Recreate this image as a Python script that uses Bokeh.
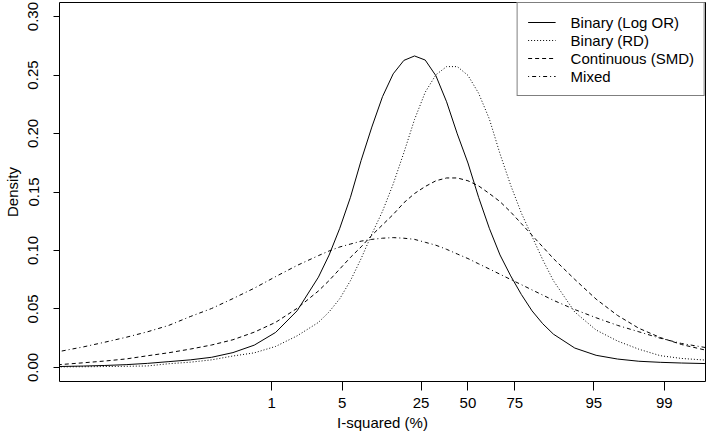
import math
from bokeh.plotting import figure
from bokeh.models import FixedTicker, Legend, LegendItem, Range1d, PrintfTickFormatter
from bokeh.embed import file_html
from bokeh.resources import INLINE

# ---- data (x = logit of I-squared, y = density) ----
x_logit = [-9.6, -9.0, -8.5, -8.0, -7.5, -7.0, -6.5, -6.0, -5.5, -5.0, -4.5, -4.0, -3.5,
           -3.25, -3.0, -2.75, -2.5, -2.25, -2.0, -1.75, -1.5, -1.25, -1.0, -0.75, -0.5,
           -0.25, 0.0, 0.25, 0.5, 0.75, 1.0, 1.25, 1.5, 1.75, 2.0,
           2.5, 3.0, 3.5, 4.0, 4.5, 5.0, 5.6]

binary_logor = [0.0008, 0.0012, 0.0017, 0.0024, 0.0035, 0.0050, 0.0065, 0.0087, 0.0127, 0.0191,
                0.0300, 0.0484, 0.0772,
                0.0961, 0.1190, 0.1455, 0.1770, 0.2055, 0.2315, 0.2510, 0.2625, 0.2663, 0.2628,
                0.2494, 0.2271, 0.1997, 0.1748, 0.1454, 0.1190, 0.0962, 0.0783, 0.0624, 0.0484,
                0.0374, 0.0285,
                0.0166, 0.0104, 0.0072, 0.0053, 0.0044, 0.0038, 0.0033]

binary_rd = [0.0005, 0.0006, 0.0008, 0.0010, 0.0013, 0.0032, 0.0045, 0.0065, 0.0098, 0.0125,
             0.0180, 0.0270, 0.0385,
             0.0475, 0.0588, 0.0742, 0.0931, 0.1140, 0.1335, 0.1568, 0.1836, 0.2120, 0.2353,
             0.2502, 0.2572, 0.2572, 0.2497, 0.2344, 0.2125, 0.1827, 0.1558, 0.1320, 0.1120,
             0.0921, 0.0742,
             0.0474, 0.0320, 0.0226, 0.0156, 0.0101, 0.0077, 0.0062]

continuous_smd = [0.0023, 0.0040, 0.0055, 0.0073, 0.0100, 0.0126, 0.0157, 0.0192, 0.0237, 0.0302,
                  0.0386, 0.0505, 0.0654,
                  0.0743, 0.0842, 0.0941, 0.1031, 0.1130, 0.1219, 0.1308, 0.1408, 0.1487, 0.1547,
                  0.1596, 0.1620, 0.1620, 0.1596, 0.1552, 0.1487, 0.1418, 0.1329, 0.1230, 0.1130,
                  0.1031, 0.0931,
                  0.0753, 0.0584, 0.0445, 0.0335, 0.0256, 0.0196, 0.0145]

mixed = [0.0134, 0.0176, 0.0216, 0.0258, 0.0305, 0.0360, 0.0435, 0.0504, 0.0589, 0.0678,
         0.0777, 0.0872, 0.0956,
         0.0996, 0.1030, 0.1055, 0.1080, 0.1095, 0.1105, 0.1110, 0.1105, 0.1095, 0.1070,
         0.1045, 0.1010, 0.0970, 0.0931, 0.0886, 0.0842, 0.0797, 0.0752, 0.0708, 0.0663,
         0.0619, 0.0574,
         0.0495, 0.0425, 0.0360, 0.0305, 0.0250, 0.0205, 0.0168]

series_names = ["Binary (Log OR)", "Binary (RD)", "Continuous (SMD)", "Mixed"]
x_tick_pcts = [1, 5, 25, 50, 75, 95, 99]
y_ticks = [0.00, 0.05, 0.10, 0.15, 0.20, 0.25, 0.30]

FONT = "Liberation Sans"
FS = "15px"

p = figure(width=709, height=442, output_backend="svg", toolbar_location=None,
           x_range=Range1d(-9.56, 5.56), y_range=Range1d(-0.012, 0.312),
           min_border_left=55, min_border_right=4, min_border_top=2, min_border_bottom=61)
p.xgrid.visible = False
p.ygrid.visible = False
p.outline_line_color = "black"
p.outline_line_width = 1
p.background_fill_color = "white"
p.border_fill_color = "white"

xt = [math.log(v / (100.0 - v)) for v in x_tick_pcts]
xa = p.xaxis[0]
xa.ticker = FixedTicker(ticks=xt)
xa.major_label_overrides = {t: str(v) for t, v in zip(xt, x_tick_pcts)}
xa.axis_label = "I-squared (%)"

ya = p.yaxis[0]
ya.ticker = FixedTicker(ticks=y_ticks)
ya.formatter = PrintfTickFormatter(format="%.2f")
ya.major_label_orientation = "vertical"
ya.axis_label = "Density"

for ax in (xa, ya):
    ax.axis_line_color = None
    ax.major_tick_in = 0
    ax.major_tick_line_color = "black"
    ax.minor_tick_line_color = None
    ax.major_label_text_font = FONT
    ax.major_label_text_font_size = FS
    ax.major_label_text_color = "black"
    ax.axis_label_text_font = FONT
    ax.axis_label_text_font_size = FS
    ax.axis_label_text_font_style = "normal"
    ax.axis_label_text_color = "black"
xa.major_tick_out = 9
xa.major_label_standoff = 7
xa.axis_label_standoff = 3
ya.major_tick_out = 6
ya.major_label_standoff = 15
ya.axis_label_standoff = 5

dashes = ["solid", "1 2", "4 3", "1 3 4 3"]
ys = [binary_logor, binary_rd, continuous_smd, mixed]
items = []
for name, yv, dash in zip(series_names, ys, dashes):
    r = p.line(x_logit, yv, line_color="black", line_width=1, line_dash=dash)
    items.append(LegendItem(label=name, renderers=[r]))

legend = Legend(items=items, location="top_right", margin=0, padding=10, spacing=0,
                label_height=18, glyph_height=18, glyph_width=28, label_standoff=15,
                label_text_font=FONT, label_text_font_size=FS, label_text_color="black",
                border_line_color="black", border_line_width=1,
                background_fill_color="white", background_fill_alpha=1)
p.add_layout(legend)

open("out.html", "w").write(file_html(p, INLINE))
